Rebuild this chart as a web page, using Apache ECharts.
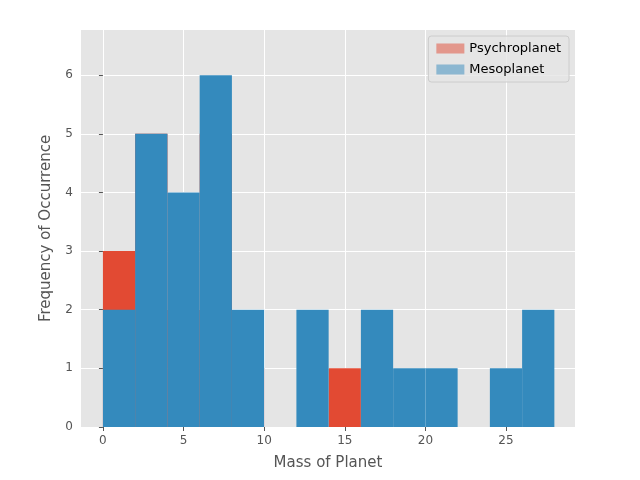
<!DOCTYPE html>
<html><head><meta charset="utf-8">
<script src="https://cdn.jsdelivr.net/npm/echarts@6/dist/echarts.min.js"></script>
<style>body{margin:0}#c{width:640px;height:480px}</style></head>
<body><div id="c"></div>
<script>
// bin edges (width 2) and counts
const binStarts = [0, 2, 4, 6, 8, 10, 12, 14, 16, 18, 20, 22, 24, 26];
const psychro = [3, 5, 2, 5, 1, 0, 0, 1, 0, 0, 0, 0, 0, 0];
const meso = [2, 5, 4, 6, 2, 0, 2, 0, 2, 1, 1, 0, 1, 2];
const xTicks = [0, 5, 10, 15, 20, 25];
const yTicks = [0, 1, 2, 3, 4, 5, 6];

const toData = counts => binStarts.map((s, i) => [s, s + 2, counts[i]]).filter(d => d[2] > 0);

function renderBar(params, api) {
    const p0 = api.coord([api.value(0), 0]);
    const p1 = api.coord([api.value(1), api.value(2)]);
    return {
        type: 'rect',
        shape: { x: p0[0], y: p1[1], width: p1[0] - p0[0], height: p0[1] - p1[1] },
        style: { fill: api.visual('color') }
    };
}

const chart = echarts.init(document.getElementById('c'));
chart.setOption({
    animation: false,
    textStyle: { fontFamily: 'DejaVu Sans' },
    grid: { left: 81, right: 65, top: 30, bottom: 53, backgroundColor: '#E5E5E5', show: true, borderWidth: 0 },
    legend: {
        right: 71, top: 36, orient: 'vertical', icon: 'rect',
        backgroundColor: 'rgba(229,229,229,0.8)', borderColor: '#cccccc', borderWidth: 1, borderRadius: 3,
        padding: [6, 8], itemWidth: 28, itemHeight: 10, itemGap: 8,
        textStyle: { color: '#000', fontSize: 13 },
        data: ['Psychroplanet', 'Mesoplanet']
    },
    xAxis: {
        type: 'value', min: -1.36, max: 29.28,
        name: 'Mass of Planet', nameLocation: 'middle', nameGap: 29,
        nameTextStyle: { color: '#555', fontSize: 15 },
        axisLine: { show: false },
        axisTick: { show: true, length: 4, lineStyle: { color: '#555' }, customValues: xTicks },
        axisLabel: { color: '#555', fontSize: 12, customValues: xTicks },
        splitLine: { show: true, lineStyle: { color: '#fff', width: 1 } }
    },
    yAxis: {
        type: 'value', min: 0, max: 6.77,
        name: 'Frequency of Occurrence', nameLocation: 'middle', nameGap: 27,
        nameTextStyle: { color: '#555', fontSize: 15 },
        axisLine: { show: false },
        axisTick: { show: true, length: 4, lineStyle: { color: '#555' }, customValues: yTicks },
        axisLabel: { color: '#555', fontSize: 12, customValues: yTicks },
        splitLine: { show: true, lineStyle: { color: '#fff', width: 1 } }
    },
    series: [
        { name: 'Psychroplanet', type: 'custom', itemStyle: { color: '#E24A33', opacity: 0.5 },
          renderItem: renderBar, encode: { x: [0, 1], y: 2 }, data: toData(psychro) },
        { name: 'Mesoplanet', type: 'custom', itemStyle: { color: '#348ABD', opacity: 0.5 },
          renderItem: renderBar, encode: { x: [0, 1], y: 2 }, data: toData(meso) }
    ]
});
</script></body></html>
